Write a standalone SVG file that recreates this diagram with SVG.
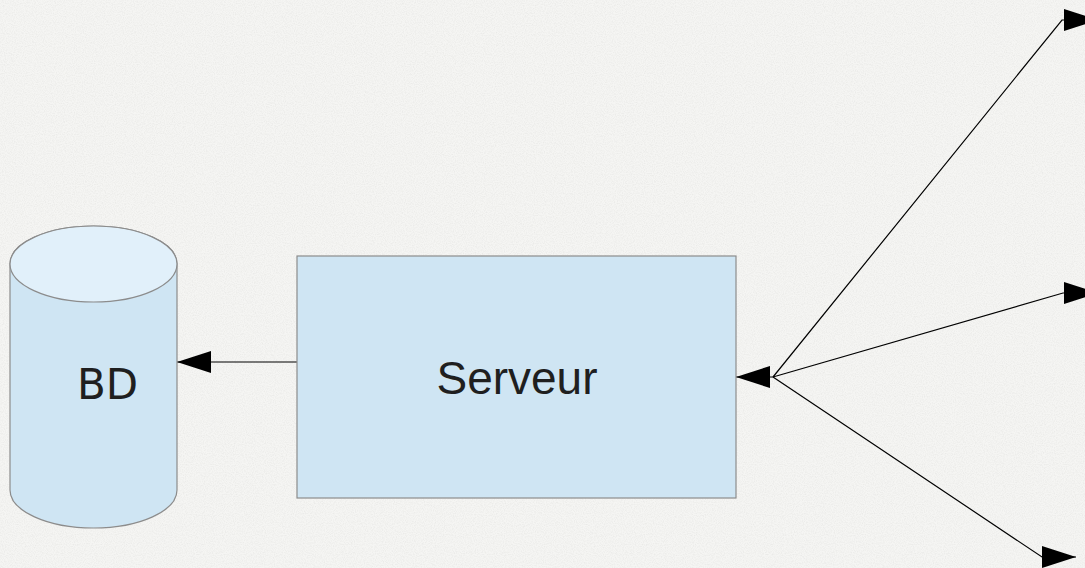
<svg xmlns="http://www.w3.org/2000/svg" width="1085" height="568" viewBox="0 0 1085 568">
  <defs>
    <style>
      .shape { fill: #cfe5f3; stroke: #8c8c8c; stroke-width: 1.2; }
      .top { fill: #e1f0fa; stroke: #8c8c8c; stroke-width: 1.2; }
      .label { fill: #1f1f1f; }
      .conn { fill: none; stroke: #000; stroke-width: 1.2; marker-end: url(#arrow); }
    </style>
    <marker id="arrow" markerUnits="userSpaceOnUse" markerWidth="34" markerHeight="22" refX="34" refY="11" orient="auto" viewBox="0 0 34 22">
      <path d="M0,0 L34,11 L0,22 z" fill="#000"/>
    </marker>
    <filter id="noise" x="0" y="0" width="100%" height="100%">
      <feTurbulence type="fractalNoise" baseFrequency="0.9" numOctaves="2" seed="3" result="n"/>
      <feColorMatrix in="n" type="matrix" values="0 0 0 0 0.55  0 0 0 0 0.55  0 0 0 0 0.53  0 0 0 -1.2 0.75" result="c"/>
      <feComposite in="c" in2="SourceGraphic" operator="in"/>
    </filter>
  </defs>
  <rect x="0" y="0" width="1085" height="568" fill="#f5f5f3"/>
  <rect x="0" y="0" width="1085" height="568" fill="#f5f5f3" filter="url(#noise)" opacity="0.35"/>

  <g id="connectors">
    <polyline class="conn" points="297,362 177,362"/>
    <polyline class="conn" points="773,377 736,377"/>
    <polyline class="conn" points="773,377 1062,20 1098,20"/>
    <polyline class="conn" points="773,377 1063,293 1098,293"/>
    <polyline class="conn" points="773,377 1042,557 1076,557"/>
  </g>

  <g id="node-bd">
    <path class="shape" d="M10,264 L10,490 A83.5,38 0 0 0 177,490 L177,264 A83.5,38 0 0 0 10,264 z"/>
    <ellipse class="top" cx="93.5" cy="264" rx="83.5" ry="38"/>
    <text class="label" x="77" y="399" font-family="DejaVu Sans, sans-serif" font-size="42">BD</text>
  </g>

  <g id="node-serveur">
    <rect class="shape" x="297" y="256" width="439" height="242"/>
    <text class="label" x="517" y="394" text-anchor="middle" font-family="Liberation Sans, Arial, sans-serif" font-size="46">Serveur</text>
  </g>
</svg>
